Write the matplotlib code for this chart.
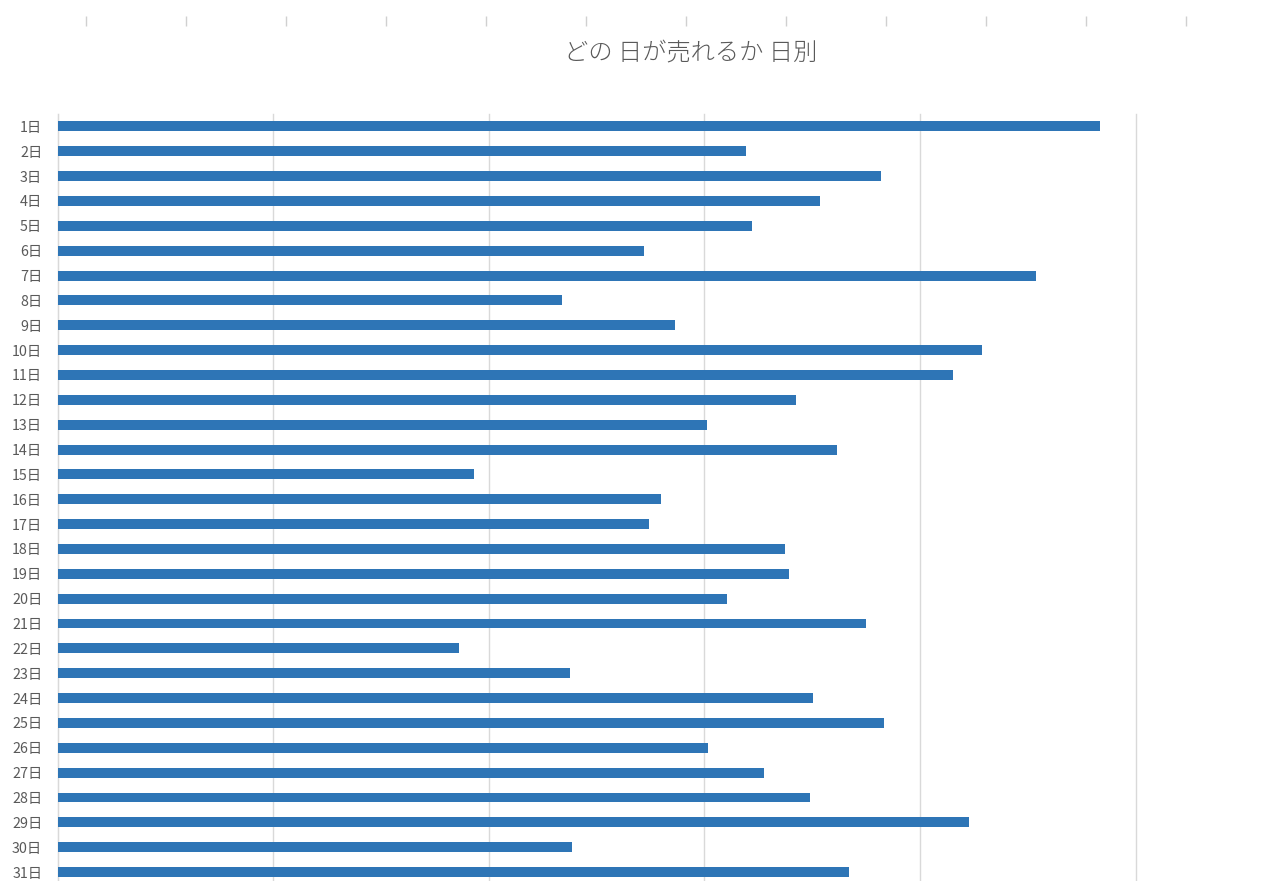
import numpy as np
import matplotlib
matplotlib.use("Agg")
import matplotlib.pyplot as plt

plt.rcParams['font.family'] = ['Noto Sans CJK JP', 'DejaVu Sans']

# =========================
# 1. Data
# =========================
days = [f"{d}日" for d in range(1, 32)]
sales = [483.3, 319.3, 382.0, 353.6, 321.9, 272.1, 453.9, 234.1, 286.4, 428.6,
         415.1, 342.6, 301.2, 361.3, 193.3, 279.9, 274.2, 337.5, 339.4, 310.3,
         375.0, 186.2, 237.8, 350.4, 383.3, 301.8, 327.8, 349.0, 422.7, 238.6,
         367.2]
x_max = 500
x_step = 100

# ===========
# 2. Figure
# ===========
W, H = 1284, 881
fig = plt.figure(figsize=(W / 100, H / 100), dpi=100)

# decorative ruler ticks along the top edge
ruler = fig.add_axes([86 / W, 1 - 26 / H, 1100 / W, 10 / H])
ruler.set_xlim(0, 11)
ruler.set_ylim(0, 1)
ruler.set_xticks(range(12))
ruler.tick_params(axis='x', top=True, bottom=False, labeltop=False, labelbottom=False,
                  direction='in', length=7, color='#d0d0d0', width=1)
ruler.set_yticks([])
for s in ruler.spines.values():
    s.set_visible(False)
ruler.patch.set_alpha(0)

# main bar chart
left, right = 57.5, 1135.7
top, bottom = 114.0, 884.5
ax = fig.add_axes([left / W, (H - bottom) / H, (right - left) / W, (bottom - top) / H])

y = np.arange(len(days))
ax.barh(y, sales, height=0.4, color='#2E75B6', zorder=3)

ax.set_xlim(0, x_max)
ax.set_ylim(len(days) - 0.5, -0.5)
ax.set_xticks(np.arange(0, x_max + 1, x_step))
ax.xaxis.grid(True, color='#d9d9d9', linewidth=1, zorder=0)
for gl in ax.get_xgridlines():
    gl.set_clip_on(False)
ax.tick_params(axis='x', length=0, labelbottom=False)

ax.set_yticks(y)
ax.set_yticklabels(days)
ax.tick_params(axis='y', length=0, pad=11, labelsize=10.3, labelcolor='#595959')

for name, s in ax.spines.items():
    s.set_visible(False)
ax.spines['left'].set_visible(True)
ax.spines['left'].set_color('#d9d9d9')

fig.text(691 / W, 1 - 53 / H, "どの 日が売れるか 日別", ha='center', va='center',
         fontsize=17.5, color='#595959', fontweight='light')

fig.savefig("out.png", dpi=100)
